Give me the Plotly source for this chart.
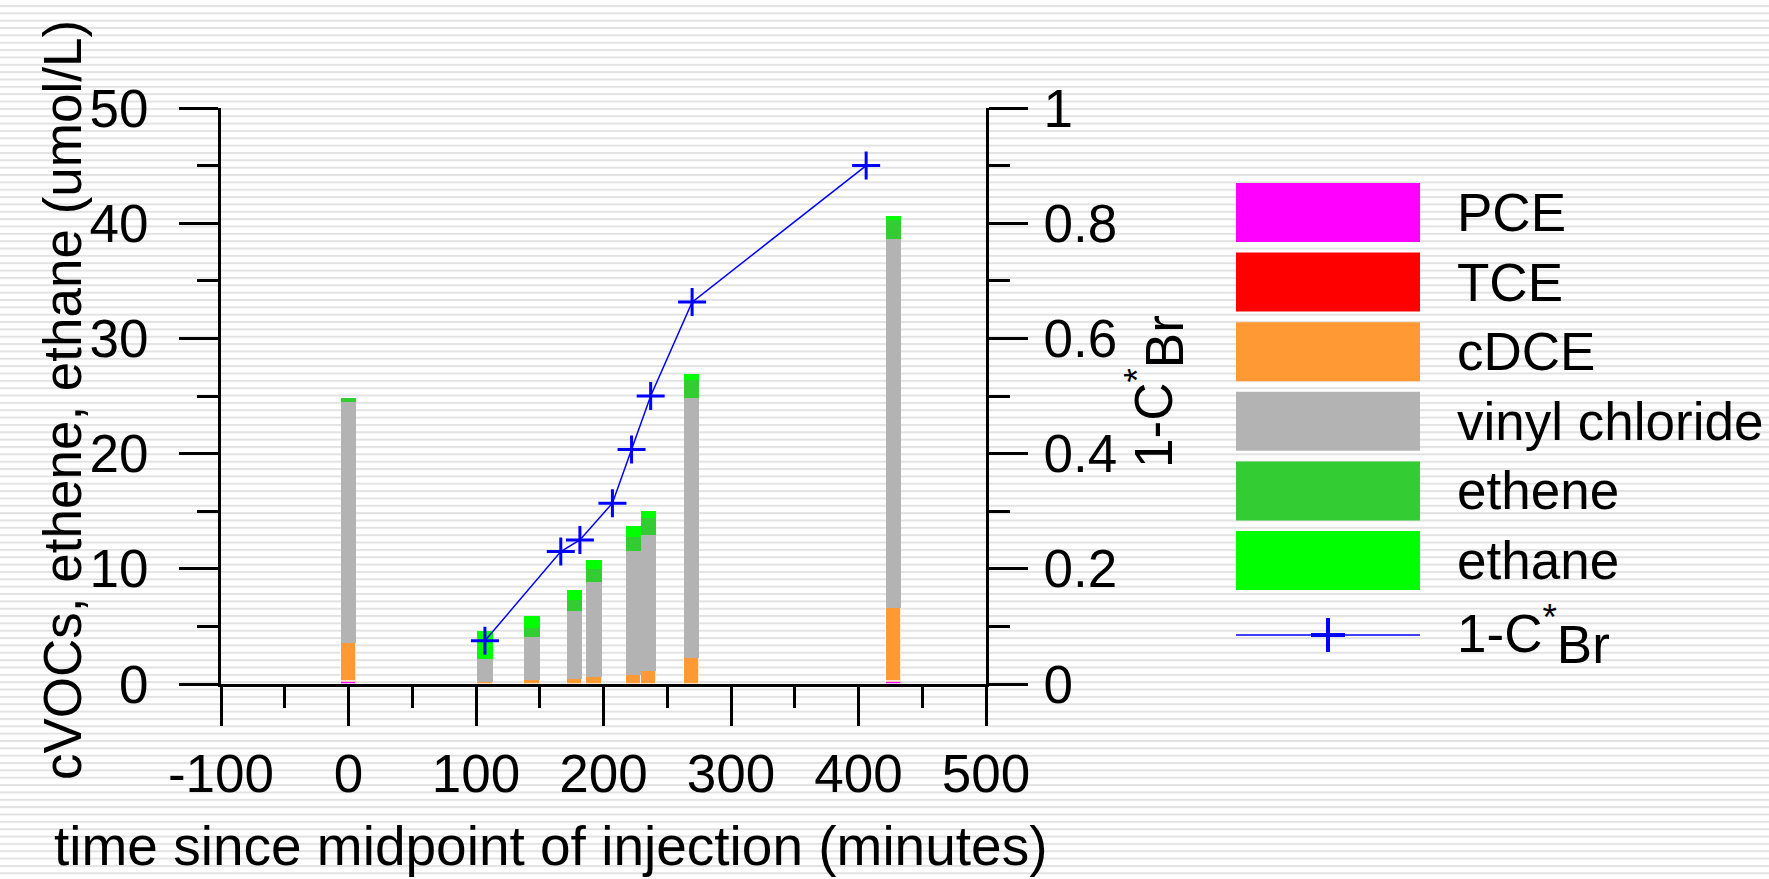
import base64
import plotly.graph_objects as go

# ---------------- data ----------------
bar_times = [0, 107, 144, 177.5, 192.5, 223.5, 235.5, 269, 427.5]
pce = [0.15, 0, 0, 0, 0, 0, 0, 0, 0.15]
tce = [0.10, 0, 0, 0, 0, 0, 0, 0, 0.10]
cdce = [3.3, 0.15, 0.35, 0.43, 0.58, 0.78, 1.1, 2.3, 6.35]
vinyl_chloride = [20.95, 2.0, 3.7, 5.87, 8.25, 10.8, 11.8, 22.5, 32.0]
ethene = [0.3, 0, 0.85, 1.03, 1.17, 1.2, 1.5, 1.55, 1.7]
ethane = [0, 2.45, 1.0, 0.8, 0.8, 0.9, 0.6, 0.55, 0.3]

br_times = [107, 166.5, 181.5, 207, 222, 237, 269.5, 406]
br_values = [0.075, 0.23, 0.25, 0.314, 0.407, 0.50, 0.663, 0.90]

series_names = ["PCE", "TCE", "cDCE", "vinyl chloride", "ethene", "ethane"]
series_values = [pce, tce, cdce, vinyl_chloride, ethene, ethane]
series_colors = ["#FF00FF", "#FF0000", "#FF9933", "#B3B3B3", "#33CC33", "#00FF00"]
line_name = "1-C<sup>*</sup><sub><span style='font-size:53px'>Br</span></sub>"

x_tickvals = [-100, 0, 100, 200, 300, 400, 500]
x_ticktext = ["-100", "0", "100", "200", "300", "400", "500"]
y_tickvals = [0, 10, 20, 30, 40, 50]
y2_tickvals = [0, 0.2, 0.4, 0.6, 0.8, 1]
y2_ticktext = ["0", "0.2", "0.4", "0.6", "0.8", "1"]

# ---------------- layout geometry ----------------
W, H = 1769, 879
ML, MR, MT, MB = 221, 783, 108, 195
PW = W - ML - MR
PH = H - MT - MB
FONT = "Liberation Sans, Arial, Helvetica, sans-serif"
FS = 53


def px_x(px):
    return (px - ML) / PW


def px_y(py):
    return (H - MB - py) / PH


fig = go.Figure()

for name, vals, col in zip(series_names, series_values, series_colors):
    lw = 1 if name in ("cDCE", "PCE", "TCE") else 0
    fig.add_trace(go.Bar(
        x=bar_times, y=vals, name=name, width=12,
        marker=dict(color=col, line=dict(color="rgba(255,255,255,0.75)", width=lw)),
        showlegend=False,
    ))

fig.add_trace(go.Scatter(
    x=br_times, y=br_values, yaxis="y2", mode="lines+markers",
    line=dict(color="#0000FF", width=1.5),
    marker=dict(symbol="cross-thin", size=20, line=dict(color="#0000FF", width=3)),
    showlegend=False, cliponaxis=False,
))

axis_common = dict(
    showline=True, linecolor="black", linewidth=3,
    ticks="outside", ticklen=39, tickwidth=3, tickcolor="black",
    tickfont=dict(family=FONT, size=FS, color="black"),
    showgrid=False, zeroline=False,
)

fig.update_layout(
    width=W, height=H,
    margin=dict(l=ML, r=MR, t=MT, b=MB, pad=0),
    paper_bgcolor="white", plot_bgcolor="rgba(0,0,0,0)",
    barmode="stack", bargap=0,
    font=dict(family=FONT, size=FS, color="black"),
    xaxis=dict(range=[-100, 500], tickmode="array", tickvals=x_tickvals, ticktext=x_ticktext,
               minor=dict(dtick=50, tick0=0, ticks="outside", ticklen=21, tickwidth=3, tickcolor="black"),
               ticklabelstandoff=2, **axis_common),
    yaxis=dict(range=[0, 50], tickmode="array", tickvals=y_tickvals,
               minor=dict(dtick=5, tick0=0, ticks="outside", ticklen=21, tickwidth=3, tickcolor="black"),
               ticklabelstandoff=20, **axis_common),
    yaxis2=dict(range=[0, 1], overlaying="y", side="right", tickmode="array",
                tickvals=y2_tickvals, ticktext=y2_ticktext,
                minor=dict(dtick=0.1, tick0=0, ticks="outside", ticklen=21, tickwidth=3, tickcolor="black"),
                ticklabelstandoff=5, **axis_common),
)

# striped background
svg = (f"<svg xmlns='http://www.w3.org/2000/svg' width='{W}' height='{H}'>"
       "<defs><pattern id='p' x='0' y='5' width='20' height='7.35' patternUnits='userSpaceOnUse'>"
       "<rect x='0' y='0' width='20' height='2' fill='#e2e2e2'/></pattern></defs>"
       f"<rect width='{W}' height='{H}' fill='url(#p)'/></svg>")
uri = "data:image/svg+xml;base64," + base64.b64encode(svg.encode()).decode()
fig.add_layout_image(dict(source=uri, xref="paper", yref="paper",
                          x=-ML / PW, y=1 + MT / PH, sizex=W / PW, sizey=H / PH,
                          xanchor="left", yanchor="top", sizing="stretch", layer="below"))

annotations = []
# axis titles
annotations.append(dict(text="time since midpoint of injection (minutes)", xref="paper", yref="paper",
                        x=px_x(550), y=px_y(846), xanchor="center", yanchor="middle",
                        showarrow=False, font=dict(size=55)))
annotations.append(dict(text="cVOCs, ethene, ethane (umol/L)", xref="paper", yref="paper",
                        x=px_x(62), y=px_y(400), xanchor="center", yanchor="middle",
                        textangle=-90, showarrow=False, font=dict(size=FS)))
annotations.append(dict(text=line_name, xref="paper", yref="paper",
                        x=px_x(1155), y=px_y(392), xanchor="center", yanchor="middle",
                        textangle=-90, showarrow=False, font=dict(size=FS)))

# manual legend
shapes = []
box_x0, box_x1 = 1236, 1420
row_top0, row_step, box_h = 183, 69.6, 59
for i, (name, col) in enumerate(zip(series_names, series_colors)):
    top = row_top0 + i * row_step
    shapes.append(dict(type="rect", xref="paper", yref="paper",
                       x0=px_x(box_x0), x1=px_x(box_x1), y0=px_y(top + box_h), y1=px_y(top),
                       fillcolor=col, line=dict(width=0)))
    annotations.append(dict(text=name, xref="paper", yref="paper", x=px_x(1455), y=px_y(top + box_h / 2),
                            xanchor="left", yanchor="middle", showarrow=False, font=dict(size=FS)))
ly = 635
cx = (box_x0 + box_x1) / 2
shapes.append(dict(type="line", xref="paper", yref="paper", x0=px_x(box_x0), x1=px_x(box_x1),
                   y0=px_y(ly), y1=px_y(ly), line=dict(color="#0000FF", width=1.5)))
shapes.append(dict(type="line", xref="paper", yref="paper", x0=px_x(cx - 17), x1=px_x(cx + 17),
                   y0=px_y(ly), y1=px_y(ly), line=dict(color="#0000FF", width=4)))
shapes.append(dict(type="line", xref="paper", yref="paper", x0=px_x(cx), x1=px_x(cx),
                   y0=px_y(ly - 17), y1=px_y(ly + 17), line=dict(color="#0000FF", width=4)))
annotations.append(dict(text=line_name, xref="paper", yref="paper", x=px_x(1455), y=px_y(ly),
                        xanchor="left", yanchor="middle", showarrow=False, font=dict(size=FS)))

fig.update_layout(annotations=annotations, shapes=shapes)
fig.write_html("out.html")
